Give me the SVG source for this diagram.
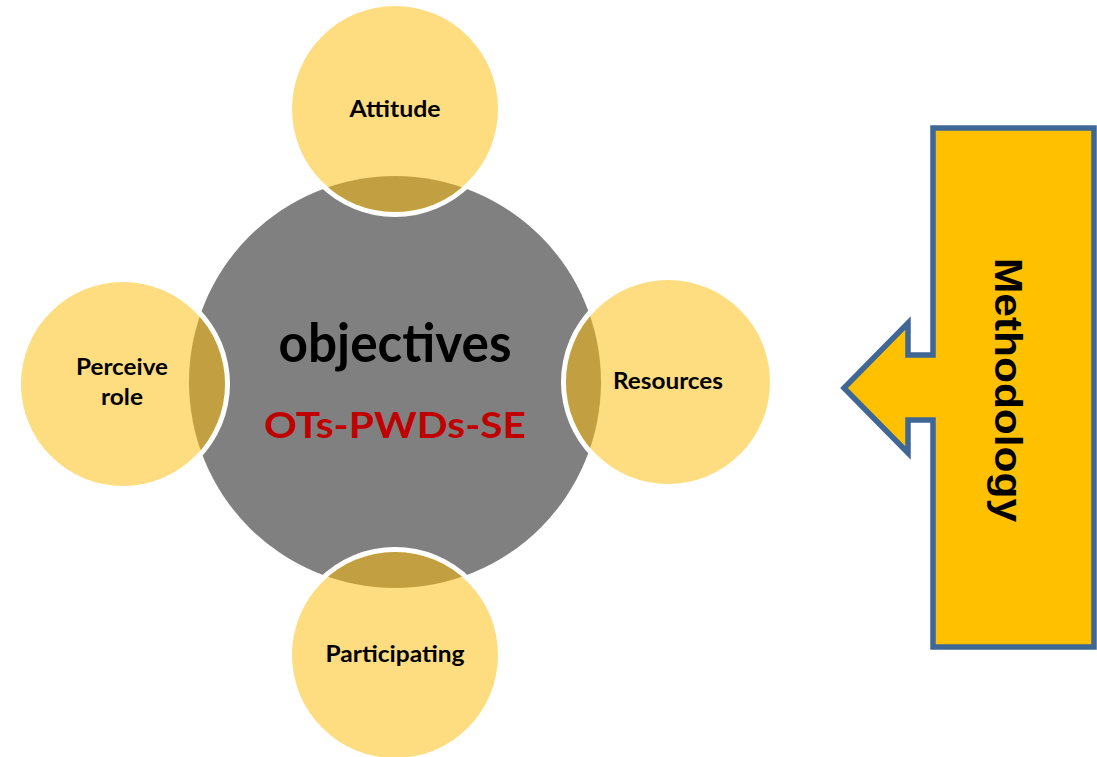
<svg xmlns="http://www.w3.org/2000/svg" width="1097" height="757" viewBox="0 0 1097 757">
<style>
.ring{fill:#ffffff}
.sat{fill:#FEDD80}
.lens{fill:#C2A042}
.lbl{font-family:Lato,"Open Sans","Liberation Sans",sans-serif;font-weight:700;font-size:22.5px;fill:#000;text-anchor:middle}
</style>
<defs>
<clipPath id="cTop"><circle cx="395" cy="109" r="103"/></clipPath>
<clipPath id="cLeft"><circle cx="123" cy="384" r="102"/></clipPath>
<clipPath id="cRight"><circle cx="668" cy="382" r="102"/></clipPath>
<clipPath id="cBottom"><circle cx="395" cy="655" r="103"/></clipPath>
</defs>
<rect width="1097" height="757" fill="#ffffff"/>
<g id="center">
<circle cx="395" cy="382" r="206" fill="#808080"/>
</g>
<g id="attitude">
<circle class="ring" cx="395" cy="109" r="108"/>
<circle class="sat" cx="395" cy="109" r="103"/>
<circle class="lens" cx="395" cy="382" r="206" clip-path="url(#cTop)"/>
<text class="lbl" x="395" y="117" textLength="91" lengthAdjust="spacingAndGlyphs">Attitude</text>
</g>
<g id="perceive">
<circle class="ring" cx="123" cy="384" r="107"/>
<circle class="sat" cx="123" cy="384" r="102"/>
<circle class="lens" cx="395" cy="382" r="206" clip-path="url(#cLeft)"/>
<text class="lbl" x="122" y="375" textLength="92" lengthAdjust="spacingAndGlyphs">Perceive</text>
<text class="lbl" x="122" y="405" textLength="42" lengthAdjust="spacingAndGlyphs">role</text>
</g>
<g id="resources">
<circle class="ring" cx="668" cy="382" r="107"/>
<circle class="sat" cx="668" cy="382" r="102"/>
<circle class="lens" cx="395" cy="382" r="206" clip-path="url(#cRight)"/>
<text class="lbl" x="668" y="389" textLength="110" lengthAdjust="spacingAndGlyphs">Resources</text>
</g>
<g id="participating">
<circle class="ring" cx="395" cy="655" r="108"/>
<circle class="sat" cx="395" cy="655" r="103"/>
<circle class="lens" cx="395" cy="382" r="206" clip-path="url(#cBottom)"/>
<text class="lbl" x="395" y="662" textLength="139" lengthAdjust="spacingAndGlyphs">Participating</text>
</g>
<g id="center-text">
<text x="395" y="362" font-family="Lato,'Open Sans','Liberation Sans',sans-serif" font-weight="700" font-size="54" fill="#000" text-anchor="middle" textLength="233" lengthAdjust="spacingAndGlyphs">objectives</text>
<text x="395" y="438" font-family="Lato,'Open Sans','Liberation Sans',sans-serif" font-weight="700" font-size="37" fill="#C00000" text-anchor="middle" textLength="262" lengthAdjust="spacingAndGlyphs">OTs-PWDs-SE</text>
</g>
<g id="methodology">
<path d="M933 128 H1094 V647 H933 V420 H908 V453 L844 388 L908 323 V355 H933 Z" fill="#FFC000" stroke="#3E6796" stroke-width="5.5" stroke-linejoin="miter"/>
<text transform="translate(995,390) rotate(90)" x="0" y="0" font-family="'Liberation Sans',Arial,sans-serif" font-weight="700" font-size="38" fill="#000" text-anchor="middle" textLength="264" lengthAdjust="spacingAndGlyphs">Methodology</text>
</g>
<g id="connectors"></g>
</svg>
